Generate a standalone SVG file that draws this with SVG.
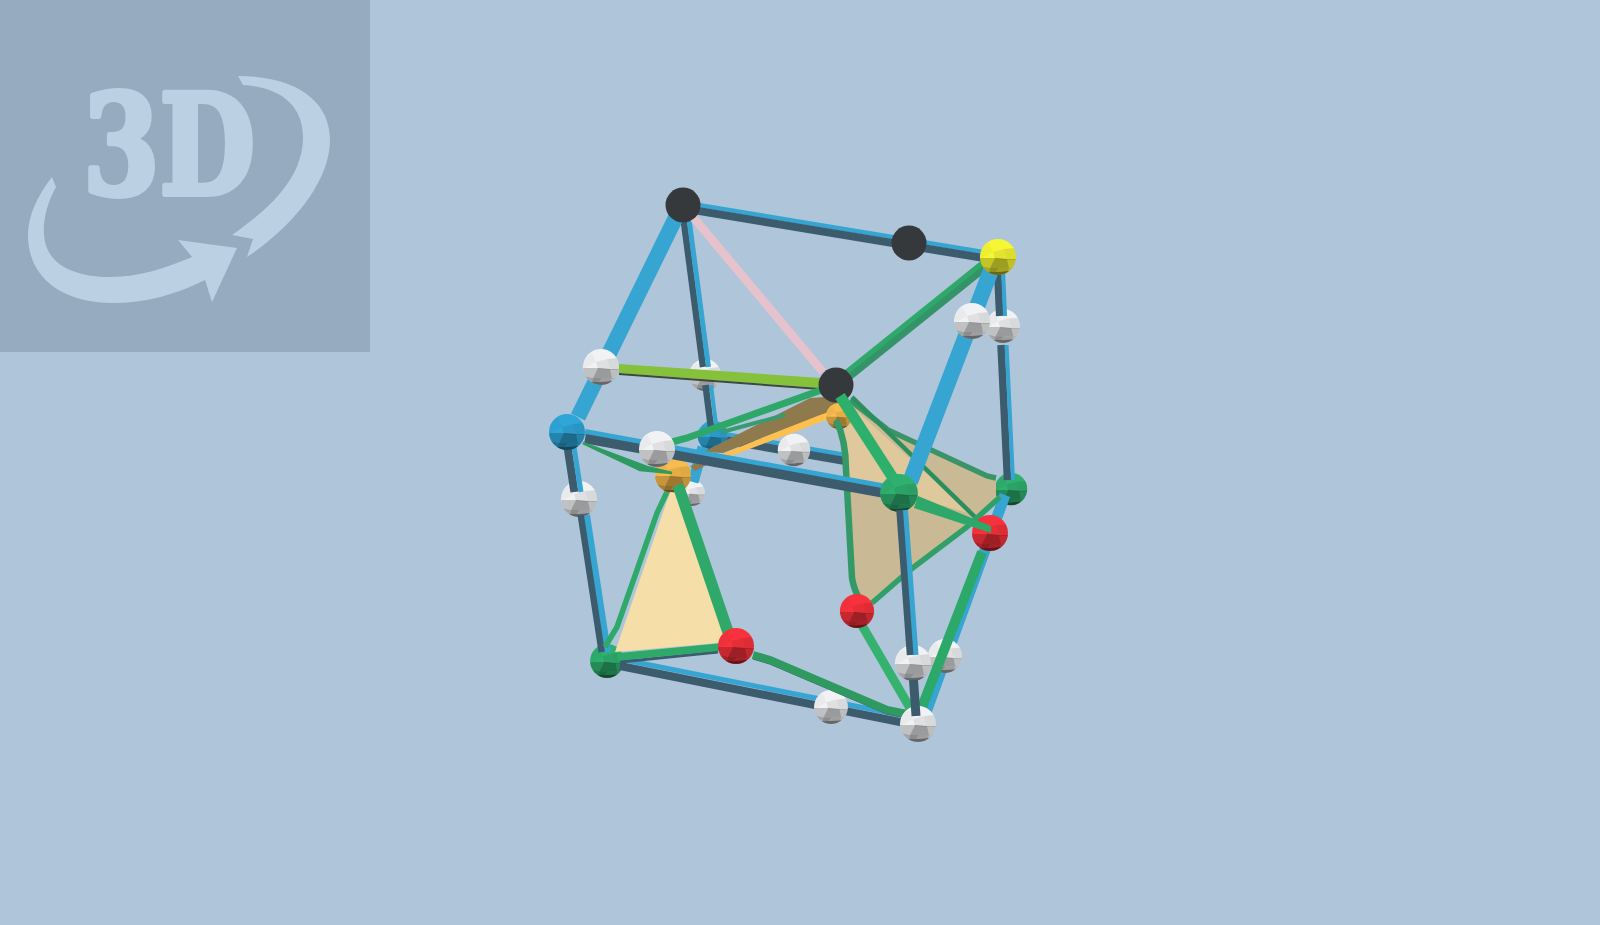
<svg xmlns="http://www.w3.org/2000/svg" width="1600" height="925" viewBox="0 0 1600 925">
<style>
line{fill:none;stroke-linecap:butt}
.lb{stroke:#36a5d1}
.db{stroke:#3c5c6d}
.g1{stroke:#2ea96a}
.g2{stroke:#35936a}
.w{fill:#f1f2f4}.b{fill:#2fa6d8}.g{fill:#2fb06f}.r{fill:#f8323c}.y{fill:#f6f634}.o{fill:#f8bb4d}.k{fill:#36393c}
</style>
<defs>
<clipPath id="c"><circle r="18"/></clipPath>
<g id="f" clip-path="url(#c)">
<polygon points="-18,-8 -9,-14 -5,-5 -17,2" fill="#000" fill-opacity=".03"/>
<polygon points="-5,-5 6,-8 9,3 -3,2" fill="#000" fill-opacity=".07"/>
<polygon points="6,-8 18,-9 19,3 9,3" fill="#000" fill-opacity=".1"/>
<polygon points="-19,2 -17,1 -3,1 -8,11 -17,9" fill="#000" fill-opacity=".2"/>
<polygon points="-3,1 9,2 11,11 -8,11" fill="#000" fill-opacity=".36"/>
<polygon points="9,2 19,2 17,10 11,11" fill="#000" fill-opacity=".22"/>
<polygon points="-17,9 -8,11 -9,15 -14,15" fill="#000" fill-opacity=".32"/>
<polygon points="-8,11 1,11 -2,15 -9,15" fill="#000" fill-opacity=".42"/>
<polygon points="1,11 11,11 10,14 -2,15" fill="#000" fill-opacity=".34"/>
<polygon points="11,11 17,10 14,15 10,14" fill="#000" fill-opacity=".26"/>
<polygon points="-14,15 -9,15 -2,15 10,14 14,15 8,20 -8,20" fill="#000" fill-opacity=".58"/>
</g>
<g id="sw"><circle r="18" class="w"/><use href="#f"/></g>
<g id="sb"><circle r="18" class="b"/><use href="#f"/></g>
<g id="sg"><circle r="18" class="g"/><use href="#f"/></g>
<g id="sr"><circle r="18" class="r"/><use href="#f"/></g>
<g id="so"><circle r="18" class="o"/><use href="#f"/></g>
<g id="sy"><circle r="18" class="y"/><use href="#f"/></g>
</defs>
<rect width="1600" height="925" fill="#afc5da"/>
<g id="logo">
<rect width="370" height="352" fill="#96aac0"/>
<text x="83" y="194" font-family="'DejaVu Serif',serif" font-weight="700" font-size="138" textLength="172" lengthAdjust="spacingAndGlyphs" fill="#bbd0e2" stroke="#bbd0e2" stroke-width="6" stroke-linejoin="round">3D</text>
<path d="M238,76 C295,76 330,100 330,140 C330,180 295,225 247,257 L253,239 L232,235 C275,205 303,175 303,137 C303,105 280,87 243,85 Z" fill="#bbd0e2"/>
<path d="M52,177 L56,187 C46,205 43,222 44,235 C46,265 75,277 110,277 C140,277 165,268 192,257 L178,240 L237,248 L212,302 L205,280 C175,295 145,303 113,303 C65,303 28,280 28,235 C28,215 38,195 52,177 Z" fill="#bbd0e2"/>
</g>
<g id="nodes-back">
<use id="n-white-back-1" href="#sw" transform="translate(705,375) scale(.89)"/>
<use id="n-blue-back" href="#sb" transform="translate(713,436) scale(.85)"/>
<use id="n-white-back-2" href="#sw" transform="translate(692,493) scale(.72)"/>
<use id="n-green-right" href="#sg" transform="translate(1011,489) scale(.9)"/>
<use id="n-white-right-b" href="#sw" transform="translate(1003,326) scale(.94)"/>
<use id="n-white-left" href="#sw" transform="translate(579,499) scale(1)"/>
<use id="n-green-ll" href="#sg" transform="translate(607,661) scale(.94)"/>
</g>
<g id="connectors-back">
<line class="lb" stroke-width="4.5" x1="727" y1="434.5" x2="848" y2="455.5"/>
<line class="db" stroke-width="8" x1="727" y1="440.5" x2="848" y2="461.5"/>
<line class="lb" stroke-width="11" x1="703" y1="447" x2="693" y2="482"/>
<line class="db" stroke-width="6.5" x1="683" y1="215" x2="703" y2="367"/>
<line class="lb" stroke-width="5" x1="688.5" y1="215" x2="708.5" y2="367"/>
<line class="db" stroke-width="6.5" x1="705.5" y1="385" x2="711" y2="428"/>
<line class="lb" stroke-width="4" x1="711" y1="385" x2="716.5" y2="428"/>
<line stroke="#e5c2cc" stroke-width="8.5" x1="693" y1="217" x2="823" y2="372"/>
<line class="lb" stroke-width="4.5" x1="683" y1="202.4" x2="998" y2="254.4"/>
<line class="db" stroke-width="8" x1="683" y1="208.4" x2="998" y2="260.4"/>
<line class="db" stroke-width="7.5" x1="997.5" y1="268" x2="999.7" y2="316"/>
<line class="lb" stroke-width="4" x1="1003" y1="268" x2="1005" y2="316"/>
<line class="db" stroke-width="7.5" x1="1001" y1="345" x2="1007.5" y2="480"/>
<line class="lb" stroke-width="4" x1="1006.6" y1="345" x2="1013" y2="480"/>
<line class="db" stroke-width="8" x1="567.5" y1="447" x2="574.4" y2="492"/>
<line class="lb" stroke-width="5" x1="574" y1="447" x2="581" y2="492"/>
<line class="db" stroke-width="8" x1="581.5" y1="515" x2="602.5" y2="652"/>
<line class="lb" stroke-width="6" x1="587" y1="515" x2="608" y2="652"/>
<line class="lb" stroke-width="5" x1="620" y1="659" x2="905" y2="716"/>
<line class="db" stroke-width="8" x1="620" y1="666" x2="905" y2="723"/>
<line class="lb" stroke-width="15.5" x1="677" y1="215" x2="578" y2="417"/>
<line class="lb" stroke-width="11" x1="1005" y1="495" x2="926" y2="712"/>
</g>
<g id="nodes-mid">
<use id="n-blue-left" href="#sb" transform="translate(567,432) scale(1)"/>
<g id="n-black-top"><circle class="k" cx="683" cy="205" r="17.5"/></g>
<g id="n-black-mid"><circle class="k" cx="909" cy="243" r="17.5"/></g>
<use id="n-white-upper" href="#sw" transform="translate(601,367) scale(1)"/>
<use id="n-white-794" href="#sw" transform="translate(794,450) scale(.9)"/>
<use id="n-white-831" href="#sw" transform="translate(831,707) scale(.94)"/>
<use id="n-white-945" href="#sw" transform="translate(945,656) scale(.94)"/>
</g>
<g id="surfaces">
<polygon points="619,364 820,378 820,388 619,373" fill="#86c13c"/>
<polygon points="619,373 820,388 820,390 619,375" fill="#3c4a3a"/>
<polygon points="846,404 852,400 888,430 987,476 996,478 996,500 872,603 860,600 853,578 846,470 845,430" fill="#c9b994"/>
<polygon points="848,403 918,466 975,515 917,498 899,480 880,487 846,490 843,440" fill="#dfc89b"/>
<polygon points="720,455 822,413 843,406 845,412 826,420 728,457" fill="#fdc04f"/>
<polygon points="703,452 810,398 840,396 840,408 820,415 723,453" fill="#8e7a4d"/>
<polygon points="690,466 706,460 712,462 695,471" fill="#8e7a4d"/>
</g>
<g id="n-orange-back"><use href="#so" transform="translate(839,416) scale(.72)"/></g>
<g id="connectors-surface">
<path d="M836,420 Q846,440 846,470 L852,578 Q854,590 860,600" fill="none" stroke="#339966" stroke-width="6.5"/>
<path d="M850,400 L888,430 L987,476 L996,478" fill="none" stroke="#3a9468" stroke-width="5.5"/>
<line stroke="#2a8f5c" stroke-width="4.5" x1="852" y1="397" x2="975" y2="517"/>
<path d="M872,603 L910,570 L967,527 L1000,497" fill="none" stroke="#30a068" stroke-width="5.5"/>
<line stroke="#3a9a70" stroke-width="4" x1="722" y1="432" x2="785" y2="415"/>
<path d="M672,442 L687,438 L813,393 L828,388" fill="none" stroke="#2ea868" stroke-width="7"/>
</g>
<g id="n-orange"><use href="#so" transform="translate(673,475) scale(1)"/></g>
<g id="connectors-front">
<line class="lb" stroke-width="6" x1="585" y1="432" x2="885" y2="486.8"/>
<line class="db" stroke-width="9.5" x1="585" y1="438.6" x2="885" y2="493.3"/>
</g>
<g id="n-white-657"><use href="#sw" transform="translate(657,449) scale(1)"/></g>
<g id="connectors-triangle">
<path d="M583,443 L647,467 L672,473 L640,470 Z" fill="#2f9a60" stroke="#2f9a60" stroke-width="2.5"/>
<polygon points="670,492 682,493 727,627 718,643 615,652" fill="#f5dea8"/>
<path d="M667,492 L657,513 L617,627 L605,647" fill="none" stroke="#2ea96a" stroke-width="5.5"/>
<line class="g1" stroke-width="11.5" x1="678" y1="485" x2="728" y2="632"/>
<line class="db" stroke-width="3" x1="620" y1="662" x2="718" y2="652"/>
<line class="g1" stroke-width="7.5" x1="617" y1="657" x2="720" y2="647"/>
<path d="M753,655 L770,660 L887,710 L907,714" fill="none" stroke="#3c5c6d" stroke-width="2" transform="translate(0,3.5)"/>
<path d="M753,655 L770,660 L887,710 L907,714" fill="none" stroke="#2f9a60" stroke-width="8"/>
<line stroke="#2ca968" stroke-width="10" x1="982" y1="552" x2="922" y2="707"/>
<line stroke="#36b26f" stroke-width="9" x1="860" y1="622" x2="910" y2="708"/>
</g>
<g id="n-red-lower"><use href="#sr" transform="translate(736,646) scale(1)"/></g>
<g id="n-red-mid"><use href="#sr" transform="translate(857,611) scale(.95)"/></g>
<g id="n-red-right"><use href="#sr" transform="translate(990,533) scale(1)"/></g>
<g id="connectors-top">
<line class="g1" stroke-width="6.5" x1="983.4" y1="263" x2="846.4" y2="373"/>
<line class="g2" stroke-width="6.5" x1="986.6" y1="267" x2="849.6" y2="377"/>
<line class="lb" stroke-width="16" x1="993" y1="265" x2="910" y2="482"/>
</g>
<g id="n-black-center"><circle class="k" cx="836" cy="385" r="17.5"/></g>
<g id="connectors-center">
<line stroke="#2db06c" stroke-width="11" x1="840" y1="396" x2="893" y2="478"/>
<polygon points="918,496 991,526 991,533 914,508" fill="#2ea86a"/>
</g>
<g id="n-green-center"><use href="#sg" transform="translate(899,493) scale(1.05)"/></g>
<g id="n-yellow"><use href="#sy" transform="translate(998,257) scale(1)"/></g>
<g id="n-white-right-a"><use href="#sw" transform="translate(972,321) scale(1)"/></g>
<g id="n-white-913"><use href="#sw" transform="translate(913,663) scale(1)"/></g>
<g id="n-white-bottom"><use href="#sw" transform="translate(918,724) scale(1)"/></g>
<g id="connectors-j">
<line class="db" stroke-width="8.5" x1="900.5" y1="510" x2="911" y2="655"/>
<line class="lb" stroke-width="5" x1="905.5" y1="510" x2="916" y2="655"/>
<line class="db" stroke-width="9" x1="913.5" y1="680" x2="916" y2="716"/>
</g>
</svg>
